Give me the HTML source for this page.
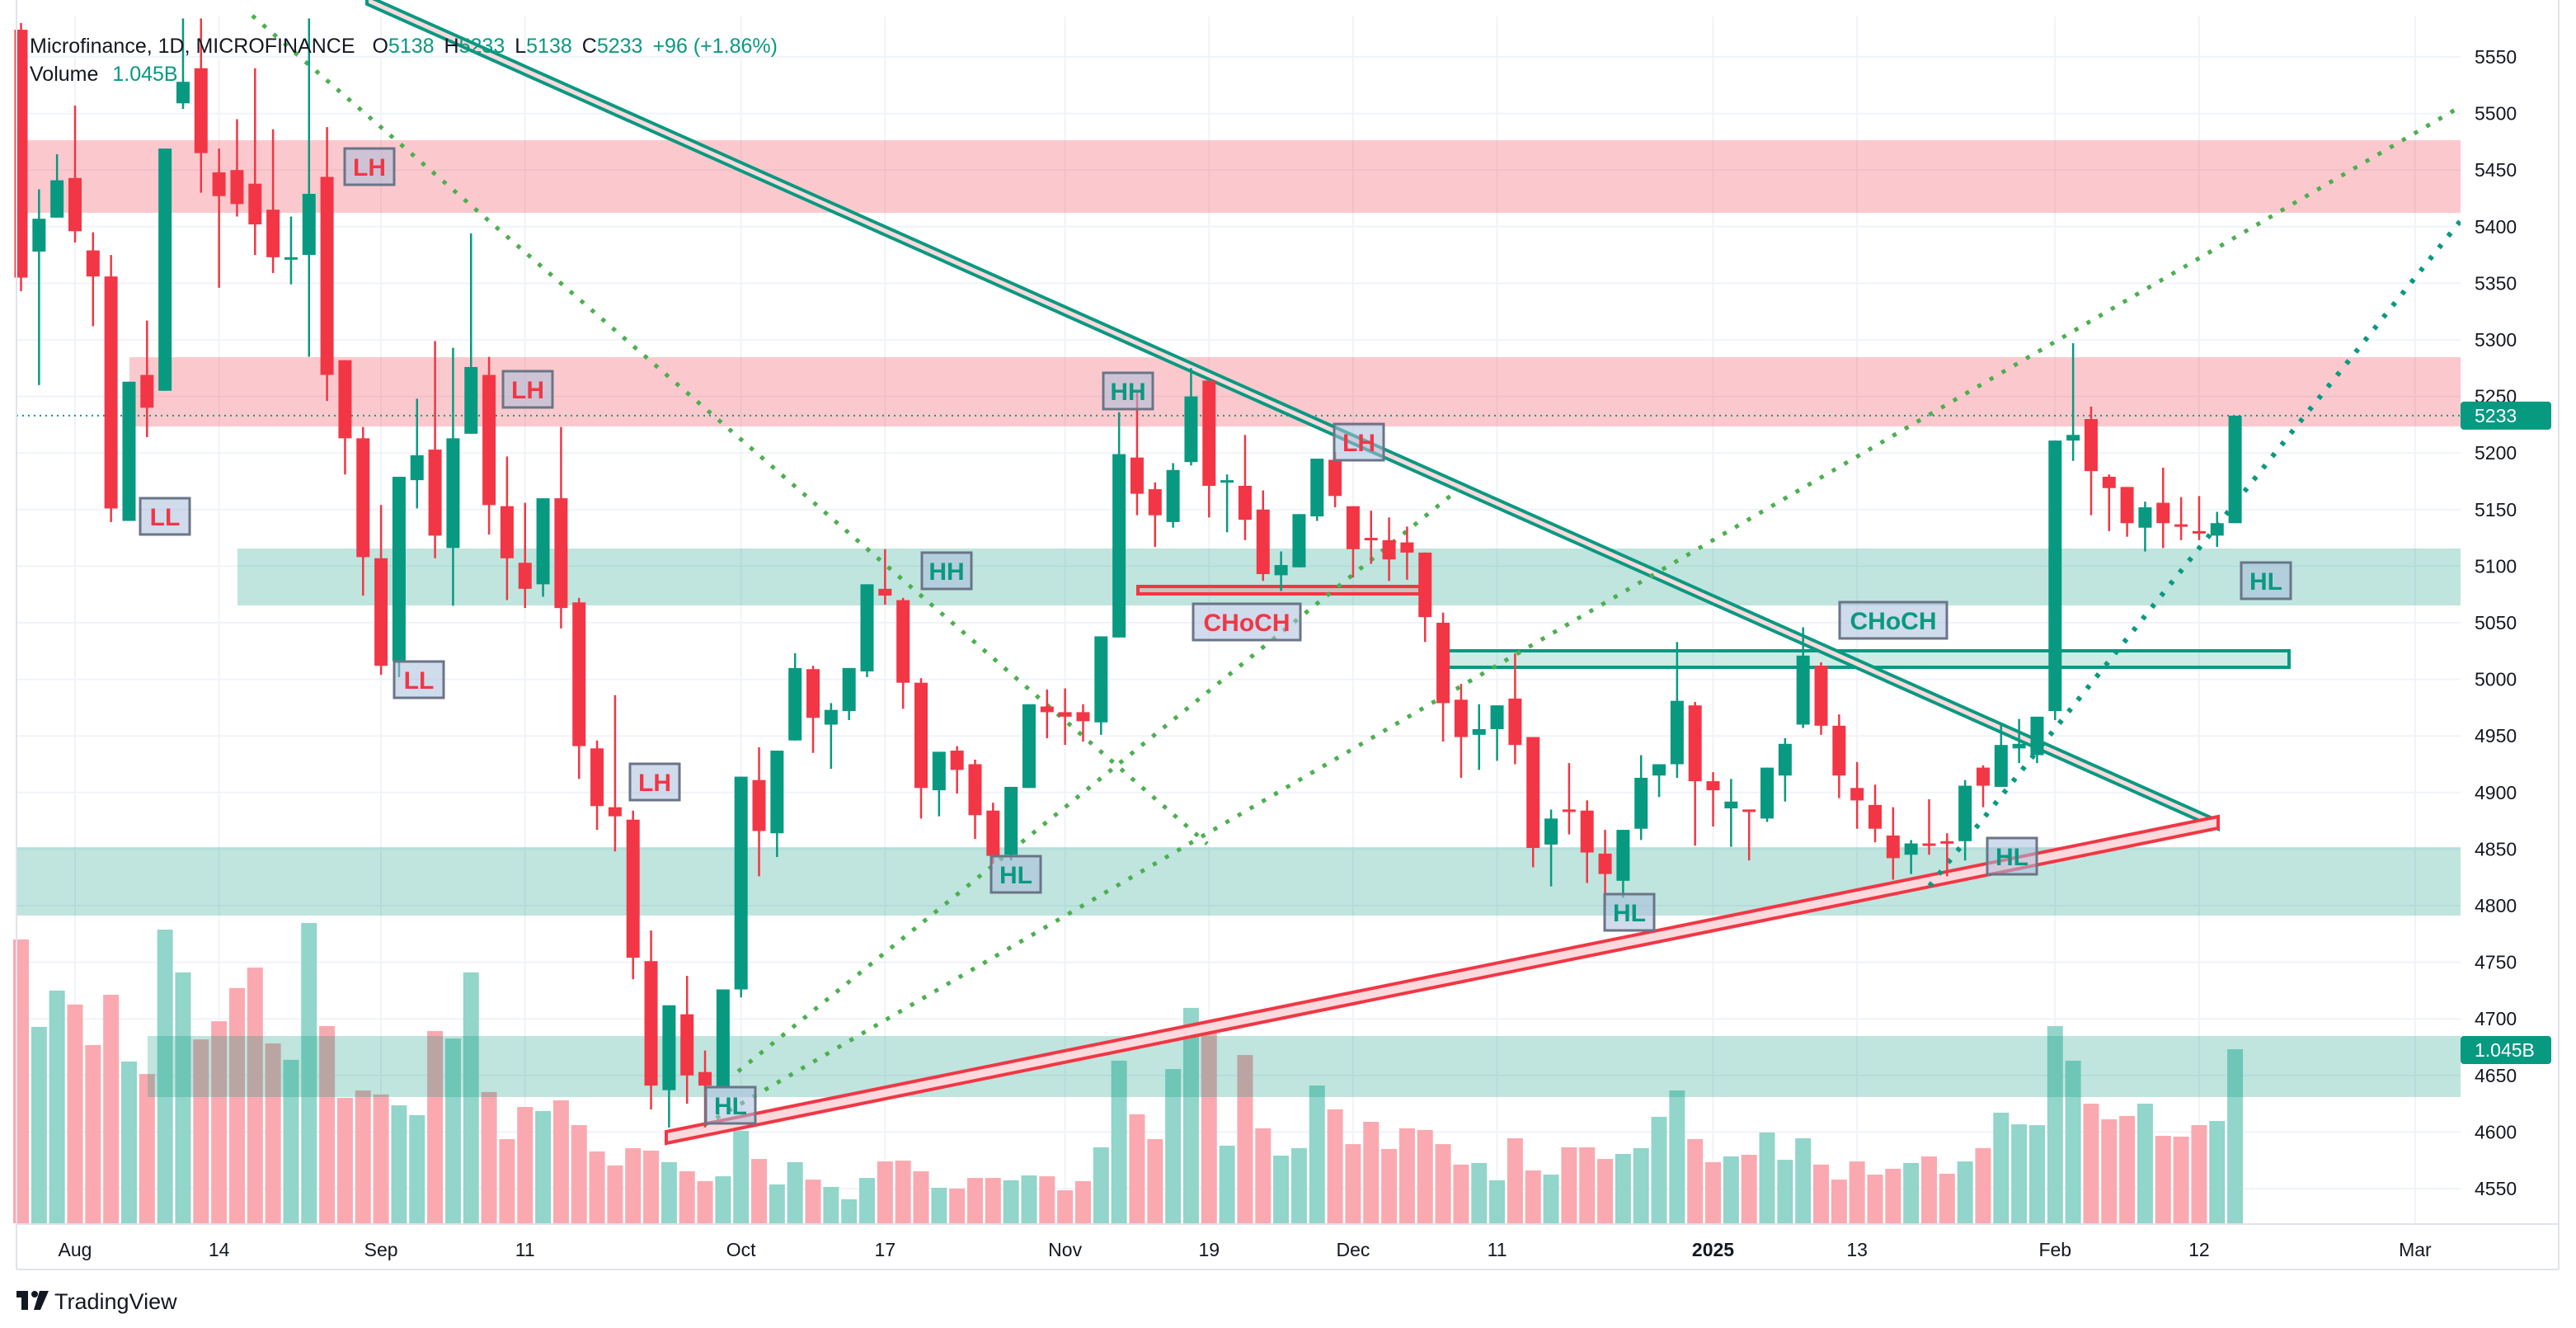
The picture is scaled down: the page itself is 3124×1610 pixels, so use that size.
<!DOCTYPE html>
<html><head><meta charset="utf-8"><style>
html,body{margin:0;padding:0;background:#fff;}
svg{display:block;font-family:"Liberation Sans",sans-serif;}
</style></head><body>
<svg id="chart" width="3124" height="1610" viewBox="0 0 3124 1610" xmlns="http://www.w3.org/2000/svg">
<rect x="0" y="0" width="3124" height="1610" fill="#ffffff"/>
<g id="grid"></g>
<g id="vol"></g>
<g id="zones"></g>
<g id="lines"></g>
<g id="candles"></g>
<g id="labels"></g>
<g id="axes"></g>
<text x="36" y="64" font-size="25" fill="#131722">Microfinance, 1D, MICROFINANCE <tspan dx="14">O</tspan><tspan fill="#089981">5138</tspan><tspan dx="12">H</tspan><tspan fill="#089981">5233</tspan><tspan dx="12">L</tspan><tspan fill="#089981">5138</tspan><tspan dx="12">C</tspan><tspan fill="#089981">5233</tspan><tspan dx="12" fill="#089981">+96 (+1.86%)</tspan></text>
<text x="36" y="98" font-size="25" fill="#131722">Volume <tspan dx="10" fill="#089981">1.045B</tspan></text>
<g>
<rect x="20" y="1565" width="14" height="8" fill="#131722"/><rect x="26" y="1565" width="8" height="23" fill="#131722"/><circle cx="42" cy="1569" r="4" fill="#131722"/><polygon points="48,1565 59,1565 49,1588 41,1588" fill="#131722"/>
<text x="66" y="1587" font-size="27" fill="#131722">TradingView</text></g>
</svg>
<script>
const opens=[5574,5378,5408,5443,5379,5356,5140,5269,5255,5509,5540,5448,5450,5438,5415,5372,5375,5444,5282,5213,5107,5016,5176,5203,5116,5217,5269,5153,5103,5084,5160,5068,4939,4887,4876,4751,4637,4704,4653,4640,4726,4911,4864,4946,5009,4960,4972,5007,5080,5070,4997,4902,4937,4925,4884,4845,4904,4976,4971,4971,4962,5037,5196,5168,5139,5192,5264,5174,5171,5150,5092,5099,5144,5194,5153,5125,5123,5121,5112,5050,4982,4951,4956,4983,4949,4854,4885,4884,4846,4822,4868,4915,4925,4977,4910,4886,4885,4877,4915,4960,5012,4959,4904,4889,4862,4845,4855,4857,4857,4922,4905,4939,4933,4972,5211,5230,5179,5170,5134,5156,5137,5131,5127,5138];
const highs=[5580,5433,5464,5507,5395,5375,5263,5317,5469,5584,5584,5469,5495,5540,5486,5409,5584,5488,5282,5223,5154,5179,5248,5299,5293,5394,5285,5197,5156,5160,5223,5072,4946,4986,4884,4778,4712,4738,4672,4726,4914,4940,4937,5023,5012,4979,5010,5084,5115,5072,5001,4936,4941,4929,4891,4905,4978,4991,4992,4978,5038,5236,5254,5174,5191,5275,5264,5181,5216,5167,5113,5146,5195,5201,5153,5149,5143,5135,5112,5059,4996,4978,4977,5023,4949,4885,4926,4893,4867,4867,4933,4925,5033,4980,4918,4912,4885,4922,4948,5046,5015,4969,4927,4907,4887,4858,4894,4864,4911,4924,4960,4965,4967,5211,5297,5241,5181,5170,5157,5187,5161,5162,5148,5233];
const lows=[5343,5260,5408,5386,5312,5139,5140,5214,5255,5504,5430,5346,5409,5375,5359,5349,5285,5246,5181,5074,5004,5002,5151,5107,5065,5217,5128,5070,5063,5073,5045,4912,4867,4848,4735,4620,4604,4625,4604,4640,4719,4826,4843,4946,4935,4921,4964,5002,5066,4974,4877,4879,4899,4859,4837,4840,4904,4948,4942,4945,4951,5037,5145,5117,5134,5189,5143,5130,5123,5087,5078,5099,5140,5152,5090,5102,5087,5088,5033,4945,4913,4920,4928,4925,4834,4817,4863,4820,4800,4807,4858,4896,4913,4853,4870,4852,4840,4874,4892,4957,4951,4895,4868,4856,4823,4828,4845,4826,4840,4887,4905,4926,4926,4964,5193,5145,5131,5126,5113,5116,5123,5123,5117,5138];
const closes=[5355,5407,5441,5396,5356,5151,5263,5240,5469,5528,5465,5427,5420,5402,5373,5373,5429,5269,5213,5108,5012,5179,5198,5127,5213,5276,5154,5107,5080,5160,5063,4941,4888,4879,4754,4641,4712,4650,4641,4726,4914,4866,4937,5010,4966,4973,5010,5084,5074,4997,4904,4936,4920,4880,4844,4905,4978,4971,4967,4963,5038,5199,5164,5145,5185,5250,5171,5176,5141,5093,5101,5146,5195,5162,5115,5124,5106,5112,5055,4979,4949,4956,4977,4942,4851,4877,4884,4847,4828,4867,4913,4925,4981,4910,4902,4892,4884,4922,4943,5021,4959,4915,4893,4868,4842,4855,4854,4856,4906,4906,4942,4943,4967,5211,5216,5184,5169,5138,5152,5138,5136,5130,5138,5233];
const volumes=[1704,1179,1397,1313,1070,1372,971,896,1763,1506,1104,1213,1412,1535,1080,981,1803,1184,753,797,773,708,649,1154,1109,1506,788,505,698,674,738,589,431,347,451,436,367,312,253,282,555,386,233,367,262,218,144,272,371,376,312,213,208,272,272,258,287,282,198,253,456,976,654,505,926,1293,1164,466,1010,570,406,451,827,684,475,609,446,570,560,475,352,362,258,510,317,292,456,456,386,416,451,639,797,505,367,401,411,545,381,510,352,262,371,292,327,362,401,297,371,451,664,594,589,1184,976,718,624,644,718,525,520,589,614,1045];
const priceTicks=[4550,4600,4650,4700,4750,4800,4850,4900,4950,5000,5050,5100,5150,5200,5250,5300,5350,5400,5450,5500,5550];
const timeLabels=["Aug","14","Sep","11","Oct","17","Nov","19","Dec","11","2025","13","Feb","12","Mar"];
const timeIdx=[3,11,20,28,40,48,58,66,74,82,94,102,113,121,133];
const lastPrice=5233;
const lastVolume=1.045;

const NS="http://www.w3.org/2000/svg";
const PL=20,PR=2984,PT=20,PB=1484;
function x(i){return 25.5+21.83*i;}
function y(p){return 69+(5550-p)*1.372;}
function vh(v){return v/1045*211;}
function el(tag,attrs,parent){const e=document.createElementNS(NS,tag);for(const k in attrs)e.setAttribute(k,attrs[k]);parent.appendChild(e);return e;}
const G=id=>document.getElementById(id);
const GREEN="#089981",RED="#f23645";

// grid
const grid=G('grid');
priceTicks.forEach(p=>{const l=el('line',{x1:PL,x2:PR,y1:y(p),y2:y(p),stroke:'#f0f3fa','stroke-width':2},grid);

});
timeIdx.forEach(i=>{const l=el('line',{x1:x(i),x2:x(i),y1:PT,y2:PB,stroke:'#f0f3fa','stroke-width':2},grid);

});

// volume
const vol=G('vol');
volumes.forEach((v,i)=>{const up=closes[i]>=opens[i];const h=vh(v);
const r=el('rect',{x:x(i)-9.5,y:1483-h,width:19,height:h,fill:up?'#92d5ca':'#faa9b0'},vol);

});

// zones
const zones=G('zones');
[[20,5574-0,170,258,'r'],[157,0,433,517,'r'],[288,0,665,734,'g'],[20,0,1027,1110,'g'],[179,0,1256,1330,'g']].forEach(z=>{
const r=el('rect',{x:z[0],y:z[2],width:2984-z[0],height:z[3]-z[2],fill:z[4]=='r'?'rgba(242,54,69,0.27)':'rgba(8,153,129,0.26)'},zones);

});
// price line
const pl=el('line',{x1:PL,x2:PR,y1:y(lastPrice),y2:y(lastPrice),stroke:GREEN,'stroke-width':2,'stroke-dasharray':'2 5'},zones);



// lines
const lines=G('lines');
const cbox=el('rect',{x:1756,y:789,width:1020,height:20,fill:'rgba(8,153,129,0.2)',stroke:GREEN,'stroke-width':4},lines);


const rbox=el('rect',{x:1380,y:711,width:342,height:9,fill:'rgba(242,54,69,0.2)',stroke:RED,'stroke-width':4},lines);


function dbl(x1,y1,x2,y2,col,name,w){
const g=el('g',{},lines);

el('polygon',{points:`${x1},${y1-w} ${x2},${y2-w} ${x2},${y2+w} ${x1},${y1+w}`,fill:'#fcd9dc',stroke:col,'stroke-width':4},g);}
dbl(445,0,2690,1000,GREEN,'descending-channel-line',5);
dbl(808,1379,2690,997,RED,'ascending-channel-line',7);
function dot(x1,y1,x2,y2,col,name,w,dash){const l=el('line',{x1,y1,x2,y2,stroke:col,'stroke-width':w,'stroke-dasharray':dash},lines);

}
dot(306,19,1464,1023,'#4caf50','dotted-trend-1',5,'5 12');
dot(854,1364,3000,120,'#4caf50','dotted-trend-2',5,'5 12');
dot(895,1299,1769,593,'#4caf50','dotted-trend-3',5,'5 12');
dot(2340,1074,2994,255,GREEN,'dotted-trend-4',6,'5 13');

// candles
const cg=G('candles');
opens.forEach((o,i)=>{const c=closes[i],up=c>=o,col=up?GREEN:RED;const g=el('g',{},cg);


el('line',{x1:x(i),x2:x(i),y1:Math.max(y(highs[i]),0),y2:y(lows[i]),stroke:col,'stroke-width':2.5},g);
const t=y(Math.max(o,c)),b=y(Math.min(o,c));
el('rect',{x:x(i)-8,y:Math.max(t,0),width:16,height:Math.max(b-Math.max(t,0),3),fill:col},g);});

// structure labels
const lab=G('labels');
[["LH",448,202,RED],["LL",200,626,RED],["LL",508,824,RED],["LH",640,472,RED],["LH",794,948,RED],["HH",1148,692,GREEN],["HL",1232,1060,GREEN],["HH",1368,474,GREEN],["LH",1648,536,RED],["CHoCH",1512,754,RED],["HL",886,1340,GREEN],["CHoCH",2296,752,GREEN],["HL",1976,1106,GREEN],["HL",2440,1038,GREEN],["HL",2748,704,GREEN]].forEach(d=>{
const w=d[0].length>2?130:60;const g=el('g',{},lab);


el('rect',{x:d[1]-w/2,y:d[2]-22,width:w,height:44,fill:'rgba(170,190,220,0.55)',stroke:'#6a7587','stroke-width':3},g);
const t=el('text',{x:d[1],y:d[2]+11,'text-anchor':'middle','font-size':30,'font-weight':'bold',fill:d[3]},g);t.textContent=d[0];});

// axes
const ax=G('axes');
el('rect',{x:PR,y:0,width:140,height:1610,fill:'#fff'},ax);
el('rect',{x:0,y:PB,width:3124,height:126,fill:'#fff'},ax);
el('line',{x1:PL,x2:3103,y1:PB,y2:PB,stroke:'#e0e3eb','stroke-width':2},ax);
el('line',{x1:PL,x2:3103,y1:1539,y2:1539,stroke:'#e0e3eb','stroke-width':2},ax);
el('line',{x1:3103,x2:3103,y1:0,y2:1539,stroke:'#e0e3eb','stroke-width':2},ax);
el('line',{x1:PL,x2:PL,y1:0,y2:1539,stroke:'#e0e3eb','stroke-width':2},ax);
priceTicks.forEach(p=>{const t=el('text',{x:3001,y:y(p)+8,'font-size':23,fill:'#131722'},ax);t.textContent=p;

});
timeLabels.forEach((s,k)=>{const t=el('text',{x:x(timeIdx[k]),y:1523,'font-size':23,'text-anchor':'middle',fill:'#131722','font-weight':s=='2025'?'bold':'normal'},ax);t.textContent=s;

});
function tag(yc,txt,name){const g=el('g',{},ax);

el('rect',{x:PR,y:yc-17,width:110,height:34,rx:4,fill:GREEN},g);
const t=el('text',{x:3001,y:yc+8,'font-size':23,fill:'#fff'},g);t.textContent=txt;}
tag(y(lastPrice),String(lastPrice),'last-price-tag');
tag(1483-vh(1045)+1,lastVolume.toFixed(3)+'B','last-volume-tag');
</script>
</body></html>
